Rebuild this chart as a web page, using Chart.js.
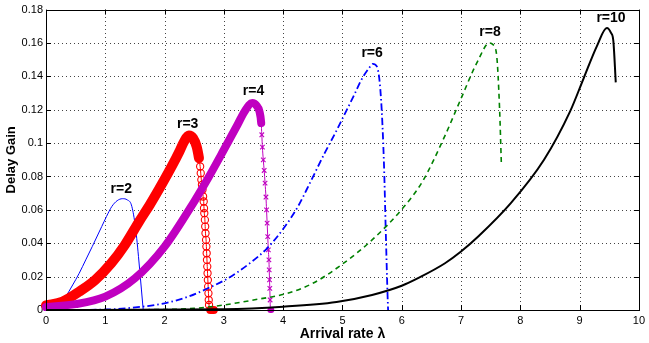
<!DOCTYPE html>
<html>
<head>
<meta charset="utf-8">
<script src="https://cdn.jsdelivr.net/npm/chart.js@4.4.0/dist/chart.umd.min.js"></script>
<style>
  html, body { margin: 0; padding: 0; background: #fff; }
  canvas { display: block; }
</style>
</head>
<body>
<canvas id="gainChart" width="649" height="343"></canvas>
<script>
// tick values
const lambdaTicks = [0, 1, 2, 3, 4, 5, 6, 7, 8, 9, 10];
const gainTicks = [0, 0.02, 0.04, 0.06, 0.08, 0.1, 0.12, 0.14, 0.16, 0.18];

// curve names and where their labels sit
const seriesNames = ["r=2", "r=3", "r=4", "r=6", "r=8", "r=10"];
const labelLambda = [1.27, 2.39, 3.5, 5.5, 7.49, 9.53];
const labelGain = [0.0723, 0.1114, 0.1314, 0.1538, 0.1663, 0.1749];

// r=2
const r2Lambda = [0, 0.17, 0.33, 0.45, 0.56, 0.67, 0.78, 0.94, 1.02, 1.11, 1.2, 1.29, 1.37, 1.44, 1.5, 1.53, 1.56, 1.61, 1.64];
const r2Gain = [0, 0.002, 0.008, 0.015, 0.022, 0.03, 0.038, 0.05, 0.056, 0.062, 0.0655, 0.0667, 0.066, 0.063, 0.052, 0.043, 0.032, 0.012, 0];

// r=3
const r3Lambda = [0, 0.28, 0.56, 0.83, 1.1, 1.33, 1.57, 1.75, 1.9, 2.12, 2.25, 2.33, 2.41, 2.48, 2.54, 2.58,
  2.6, 2.61, 2.62, 2.63, 2.64, 2.65, 2.66, 2.665, 2.67, 2.68, 2.685, 2.69, 2.7, 2.705, 2.71, 2.715, 2.72,
  2.725, 2.73, 2.735, 2.74, 2.745, 2.75, 2.77, 2.8, 2.83];
const r3Gain = [0.0027, 0.005, 0.011, 0.018, 0.028, 0.039, 0.053, 0.063, 0.072, 0.086, 0.095, 0.101, 0.1045, 0.103, 0.098, 0.091,
  0.086, 0.082, 0.078, 0.075, 0.072, 0.068, 0.065, 0.061, 0.058, 0.054, 0.05, 0.046, 0.042, 0.038, 0.034, 0.03, 0.026,
  0.022, 0.018, 0.014, 0.01, 0.006, 0.003, 0, 0, 0];

// r=4
const r4Lambda = [0, 0.5, 1.0, 1.5, 2.0, 2.5, 2.75, 3.0, 3.23, 3.35, 3.48, 3.55, 3.6, 3.63, 3.64, 3.65, 3.665, 3.68,
  3.695, 3.71, 3.72, 3.73, 3.74, 3.75, 3.76, 3.765, 3.77, 3.775, 3.78, 3.785, 3.8];
const r4Gain = [0.0018, 0.0035, 0.008, 0.019, 0.038, 0.065, 0.08, 0.096, 0.111, 0.119, 0.124, 0.1225, 0.119, 0.112, 0.105, 0.0976, 0.09, 0.0836,
  0.076, 0.0677, 0.06, 0.052, 0.044, 0.036, 0.03, 0.024, 0.018, 0.013, 0.006, 0, 0];

// r=6
const r6Lambda = [0, 1.0, 1.62, 2.0, 2.4, 2.73, 3.07, 3.4, 3.73, 4.03, 4.25, 4.45, 4.7, 4.9, 5.04, 5.2, 5.32, 5.45, 5.51, 5.58, 5.65, 5.7, 5.73, 5.76, 5.77];
const r6Gain = [0, 0.0003, 0.002, 0.004, 0.008, 0.013, 0.019, 0.027, 0.037, 0.05, 0.062, 0.076, 0.094, 0.1075, 0.1175, 0.129, 0.138, 0.145, 0.1475, 0.146, 0.127, 0.088, 0.048, 0.01, 0];

// r=8
const r8Lambda = [0, 2.0, 2.5, 3.0, 3.5, 4.07, 4.5, 4.98, 5.5, 6.01, 6.35, 6.73, 6.98, 7.28, 7.48, 7.54, 7.6, 7.65, 7.68];
const r8Gain = [0, 0.0003, 0.001, 0.003, 0.006, 0.01, 0.016, 0.027, 0.042, 0.0607, 0.077, 0.1045, 0.125, 0.149, 0.16, 0.159, 0.153, 0.121, 0.088];

// r=10
const r10Lambda = [0, 3.0, 4.0, 4.9, 5.5, 6.0, 6.3, 6.73, 7.0, 7.29, 7.84, 8.4, 8.84, 9.07, 9.29, 9.46, 9.53, 9.57, 9.61];
const r10Gain = [0, 0.0005, 0.002, 0.0048, 0.009, 0.0145, 0.0195, 0.028, 0.035, 0.044, 0.064, 0.09, 0.119, 0.139, 0.158, 0.169, 0.166, 0.161, 0.1364];

function toPoints(xs, ys) {
  return xs.map((x, i) => ({ x: x, y: ys[i] }));
}

function peakIndex(ys) {
  let best = 0;
  ys.forEach((v, i) => { if (v > ys[best]) best = i; });
  return best;
}

// thick band of markers up to the peak, then single markers on the way down
function bandSeries(xs, ys, color, marker, bandWidth, bandCut, blobWidth, markerRadius) {
  const peak = peakIndex(ys);
  return {
    data: toPoints(xs, ys),
    borderColor: color,
    backgroundColor: color,
    borderCapStyle: "round",
    borderJoinStyle: "round",
    segment: {
      borderWidth: ctx => {
        if (ctx.p0DataIndex < peak || ctx.p1.parsed.y >= bandCut) return bandWidth;
        if (ctx.p0.parsed.y === 0 && ctx.p1.parsed.y === 0) return blobWidth;
        return 1;
      }
    },
    pointStyle: marker,
    pointRadius: ctx => (ctx.dataIndex > peak && ctx.raw && ctx.raw.y > 0 ? markerRadius : 0),
    pointBorderColor: color,
    pointBackgroundColor: "rgba(0,0,0,0)",
    pointBorderWidth: 1.1,
    cubicInterpolationMode: "monotone"
  };
}

function plainSeries(xs, ys, color, width, dash) {
  return {
    data: toPoints(xs, ys),
    borderColor: color,
    borderWidth: width,
    borderDash: dash,
    pointRadius: 0,
    cubicInterpolationMode: "monotone"
  };
}

const datasets = [
  plainSeries(r2Lambda, r2Gain, "#0000ff", 1, []),
  bandSeries(r3Lambda, r3Gain, "#ff0000", "circle", 10, 0.09, 8, 3.6),
  bandSeries(r4Lambda, r4Gain, "#c000c0", "crossRot", 8, 0.112, 6, 3.2),
  plainSeries(r6Lambda, r6Gain, "#0000ff", 1.8, [7, 3, 1.5, 3]),
  plainSeries(r8Lambda, r8Gain, "#008000", 1.6, [5, 4]),
  plainSeries(r10Lambda, r10Gain, "#000000", 2, [])
];

// later curves are drawn on top, as in the original figure
datasets.forEach((ds, i) => {
  ds.label = seriesNames[i];
  ds.order = datasets.length - i;
  ds.clip = false;
  ds.fill = false;
});

// dotted grid under the curves
const dottedGrid = {
  id: "dottedGrid",
  beforeDatasetsDraw(chart) {
    const { ctx, chartArea: a, scales } = chart;
    ctx.save();
    ctx.strokeStyle = "#444";
    ctx.lineWidth = 1;
    ctx.setLineDash([1, 3]);
    ctx.beginPath();
    lambdaTicks.slice(1, -1).forEach(v => {
      const px = Math.round(scales.x.getPixelForValue(v)) + 0.5;
      ctx.moveTo(px, a.bottom); ctx.lineTo(px, a.top);
    });
    gainTicks.slice(1, -1).forEach(v => {
      const py = Math.round(scales.y.getPixelForValue(v)) + 0.5;
      ctx.moveTo(a.left, py); ctx.lineTo(a.right, py);
    });
    ctx.stroke();
    ctx.restore();
  }
};

// box, inward tick marks and curve labels
const frame = {
  id: "frame",
  afterDatasetsDraw(chart) {
    const { ctx, chartArea: a, scales } = chart;
    const len = 5;
    ctx.save();
    ctx.strokeStyle = "#000";
    ctx.lineWidth = 1;
    ctx.beginPath();
    lambdaTicks.forEach(v => {
      const px = Math.round(scales.x.getPixelForValue(v)) + 0.5;
      ctx.moveTo(px, a.bottom); ctx.lineTo(px, a.bottom - len);
      ctx.moveTo(px, a.top); ctx.lineTo(px, a.top + len);
    });
    gainTicks.forEach(v => {
      const py = Math.round(scales.y.getPixelForValue(v)) + 0.5;
      ctx.moveTo(a.left, py); ctx.lineTo(a.left + len, py);
      ctx.moveTo(a.right, py); ctx.lineTo(a.right - len, py);
    });
    ctx.stroke();
    ctx.strokeRect(Math.round(a.left) + 0.5, Math.round(a.top) + 0.5,
      Math.round(a.right - a.left), Math.round(a.bottom - a.top));

    ctx.fillStyle = "#000";
    ctx.font = "bold 14px 'Liberation Sans', Arial, sans-serif";
    ctx.textAlign = "center";
    ctx.textBaseline = "middle";
    seriesNames.forEach((name, i) => {
      ctx.fillText(name, scales.x.getPixelForValue(labelLambda[i]), scales.y.getPixelForValue(labelGain[i]));
    });
    ctx.restore();
  }
};

const tickFont = { family: "'Liberation Sans', Arial, sans-serif", size: 11 };

new Chart(document.getElementById("gainChart"), {
  type: "line",
  data: { datasets },
  options: {
    responsive: false,
    animation: false,
    events: [],
    layout: { padding: { top: 9, right: 3, left: 0, bottom: 0 } },
    plugins: {
      legend: { display: false },
      tooltip: { enabled: false }
    },
    scales: {
      x: {
        type: "linear",
        min: 0,
        max: 10,
        afterBuildTicks: s => { s.ticks = lambdaTicks.map(v => ({ value: v })); },
        afterFit: s => { s.height = 33; },
        ticks: { color: "#000", font: tickFont, padding: 4, maxRotation: 0 },
        grid: { display: false, drawTicks: false },
        border: { display: false },
        title: {
          display: true,
          text: "Arrival rate λ",
          color: "#000",
          font: { family: "'Liberation Sans', Arial, sans-serif", size: 14, weight: "bold" },
          padding: { top: 0, bottom: 0 }
        }
      },
      y: {
        type: "linear",
        min: 0,
        max: 0.18,
        afterBuildTicks: s => { s.ticks = gainTicks.map(v => ({ value: v })); },
        afterFit: s => { s.width = 46; },
        ticks: {
          color: "#000",
          font: tickFont,
          padding: 3,
          callback: v => String(+v.toFixed(2))
        },
        grid: { display: false, drawTicks: false },
        border: { display: false },
        title: {
          display: true,
          text: "Delay Gain",
          color: "#000",
          font: { family: "'Liberation Sans', Arial, sans-serif", size: 13, weight: "bold" },
          padding: { top: 4, bottom: 0 }
        }
      }
    }
  },
  plugins: [dottedGrid, frame]
});
</script>
</body>
</html>
